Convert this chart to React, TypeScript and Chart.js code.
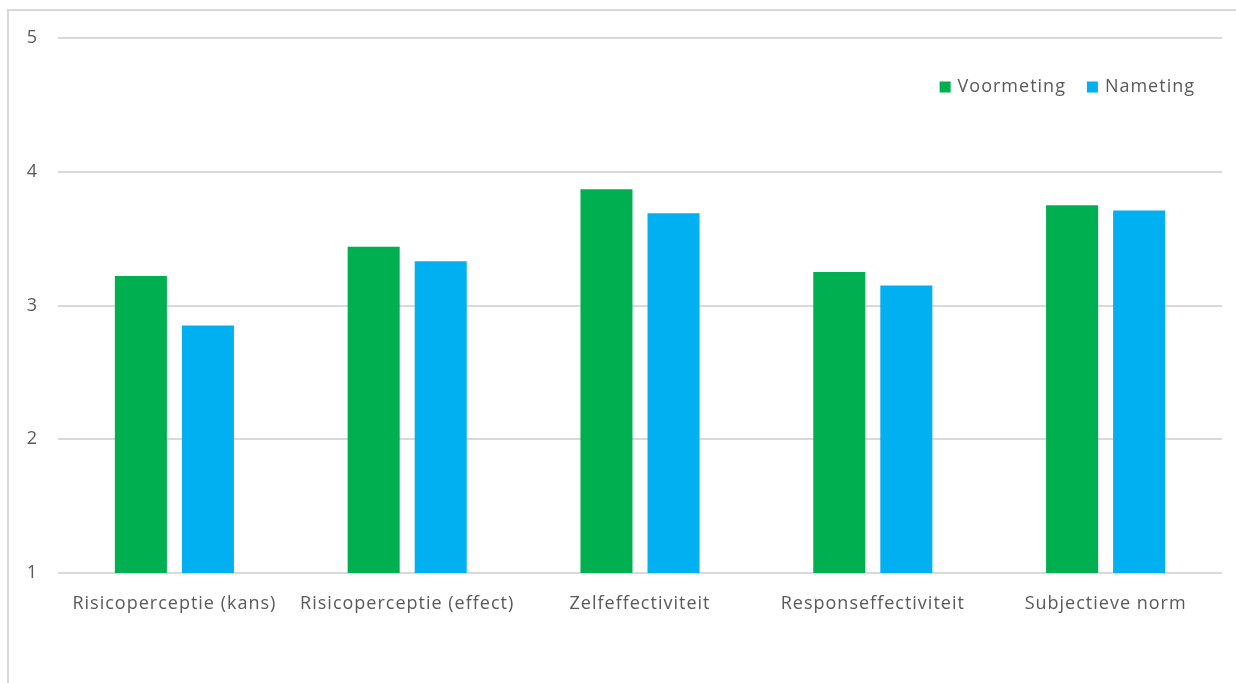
import React, { useEffect, useRef } from "react";
import { Chart, registerables } from "chart.js";

Chart.register(...registerables);

const categories = [
  "Risicoperceptie (kans)",
  "Risicoperceptie (effect)",
  "Zelfeffectiviteit",
  "Responseffectiviteit",
  "Subjectieve norm",
];
const voormeting = [3.22, 3.44, 3.87, 3.25, 3.75];
const nameting = [2.85, 3.33, 3.69, 3.15, 3.71];
const yTicks = [1, 2, 3, 4, 5];

const FONT = "'Open Sans', Lato, sans-serif";
const TEXT = "#595959";

// Slightly tracked-out text for every label the chart draws
const spacing = {
  id: "spacing",
  beforeUpdate(chart: any) {
    chart.ctx.letterSpacing = "1px";
  },
  beforeLayout(chart: any) {
    chart.ctx.letterSpacing = "1px";
  },
  beforeDraw(chart: any) {
    chart.ctx.letterSpacing = "1px";
  },
};

// Legend drawn inside the plot, top-right corner
const innerLegend = {
  id: "innerLegend",
  afterDraw(chart: any) {
    const { ctx, chartArea } = chart;
    const items = chart.data.datasets.map((d: any) => ({ label: d.label, color: d.backgroundColor }));
    ctx.save();
    ctx.letterSpacing = "1px";
    ctx.font = `18px ${FONT}`;
    ctx.textBaseline = "middle";
    const box = 11;
    const gapBoxText = 7;
    const gapItems = 21;
    const widths = items.map((it: any) => box + gapBoxText + ctx.measureText(it.label).width);
    const total = widths.reduce((a: number, b: number) => a + b, 0) + gapItems * (items.length - 1);
    let x = chartArea.right - 27 - total;
    const y = chartArea.top + 49;
    items.forEach((it: any, i: number) => {
      ctx.fillStyle = it.color;
      ctx.fillRect(x, y - box / 2, box, box);
      ctx.fillStyle = TEXT;
      ctx.textAlign = "left";
      ctx.fillText(it.label, x + box + gapBoxText, y);
      x += widths[i] + gapItems;
    });
    ctx.restore();
  },
};

export default function App() {
  const ref = useRef<HTMLCanvasElement>(null);

  useEffect(() => {
    if (!ref.current) return;
    const chart = new Chart(ref.current, {
      type: "bar",
      data: {
        labels: categories,
        datasets: [
          { label: "Voormeting", data: voormeting, backgroundColor: "#00B050" },
          { label: "Nameting", data: nameting, backgroundColor: "#00B0F0" },
        ],
      },
      options: {
        animation: false,
        responsive: false,
        maintainAspectRatio: false,
        layout: { padding: { left: 0, right: 14, top: 38, bottom: 0 } },
        datasets: {
          bar: { categoryPercentage: 0.576, barPercentage: 0.776 },
        },
        plugins: {
          legend: { display: false },
          tooltip: { enabled: false },
        },
        scales: {
          x: {
            grid: { display: false, drawTicks: false },
            border: { display: false },
            ticks: {
              color: TEXT,
              font: { family: FONT, size: 18 },
              padding: 20,
              maxRotation: 0,
              autoSkip: false,
            },
            afterFit: (scale: any) => {
              scale.height = 110;
            },
          },
          y: {
            min: 1,
            max: 5,
            afterBuildTicks: (scale: any) => {
              scale.ticks = yTicks.map((v) => ({ value: v }));
            },
            grid: { color: "#d9d9d9", lineWidth: 2, drawTicks: false },
            border: { display: false },
            ticks: {
              color: TEXT,
              font: { family: FONT, size: 18 },
              padding: 20,
            },
            afterFit: (scale: any) => {
              scale.width = 58;
            },
          },
        },
      },
      plugins: [spacing, innerLegend],
    });
    return () => chart.destroy();
  }, []);

  return (
    <div style={{ position: "fixed", left: 0, top: 0, width: 1236, height: 683, overflow: "hidden", background: "#fff" }}>
      <div
        style={{
          position: "absolute",
          left: 7,
          top: 9,
          width: 1400,
          height: 900,
          border: "2px solid #d9d9d9",
          boxSizing: "border-box",
        }}
      />
      <canvas ref={ref} width={1236} height={683} style={{ position: "absolute", left: 0, top: 0 }} />
    </div>
  );
}
